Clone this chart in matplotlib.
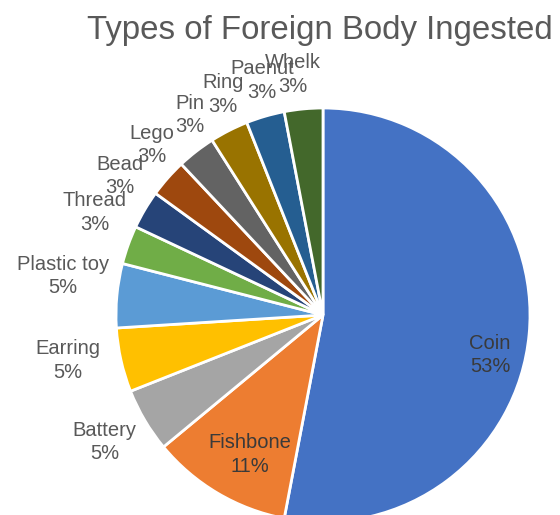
import matplotlib
matplotlib.use("Agg")
import matplotlib.pyplot as plt
import numpy as np

categories = ["Coin", "Fishbone", "Battery", "Earring", "Plastic toy", "Thread",
              "Bead", "Lego", "Pin", "Ring", "Paenut", "Whelk"]
percent = [53, 11, 5, 5, 5, 3, 3, 3, 3, 3, 3, 3]
colors = ["#4472C4", "#ED7D31", "#A5A5A5", "#FFC000", "#5B9BD5", "#70AD47",
          "#264478", "#9E480E", "#636363", "#997300", "#255E91", "#43682B"]
title = "Types of Foreign Body Ingested"

# label placement style (radius factor, angle shift in degrees) per slice
label_r = [0.83, 0.76, 1.22, 1.25, 1.27, 1.21, 1.19, 1.165, 1.16, 1.17, 1.17, 1.17]
label_shift = [-8, 3, -0.4, -2.5, -3.1, -4.3, -3.8, -3.4, -4.2, -2.6, -1.6, 1.7]

W, H = 560, 515
cx, cy, R = 323, 315, 207

plt.rcParams['font.family'] = ['Liberation Sans', 'DejaVu Sans']
fig = plt.figure(figsize=(W / 100, H / 100), dpi=100)
ax = fig.add_axes([0, 0, 1, 1])

wedges, _ = ax.pie(percent, colors=colors, startangle=90, counterclock=False,
                   radius=1.0, center=(0, 0),
                   wedgeprops=dict(edgecolor="white", linewidth=2))

ax.set_xlim(-cx / R, (W - cx) / R)
ax.set_ylim(-(H - cy) / R, cy / R)
ax.set_aspect('equal', adjustable='box')
ax.axis('off')

for i, (w, name, p) in enumerate(zip(wedges, categories, percent)):
    mid = np.deg2rad((w.theta1 + w.theta2) / 2 + label_shift[i])
    x = label_r[i] * np.cos(mid)
    y = label_r[i] * np.sin(mid)
    col = "#3a3a3a" if i < 2 else "#595959"
    ax.text(x, y, f"{name}\n{p}%", ha="center", va="center", fontsize=14.5,
            color=col, linespacing=1.3)

fig.text(320 / W, 1 - 31 / H, title, ha="center", va="center", fontsize=23.8,
         color="#595959")

fig.savefig("out.png", dpi=100)
